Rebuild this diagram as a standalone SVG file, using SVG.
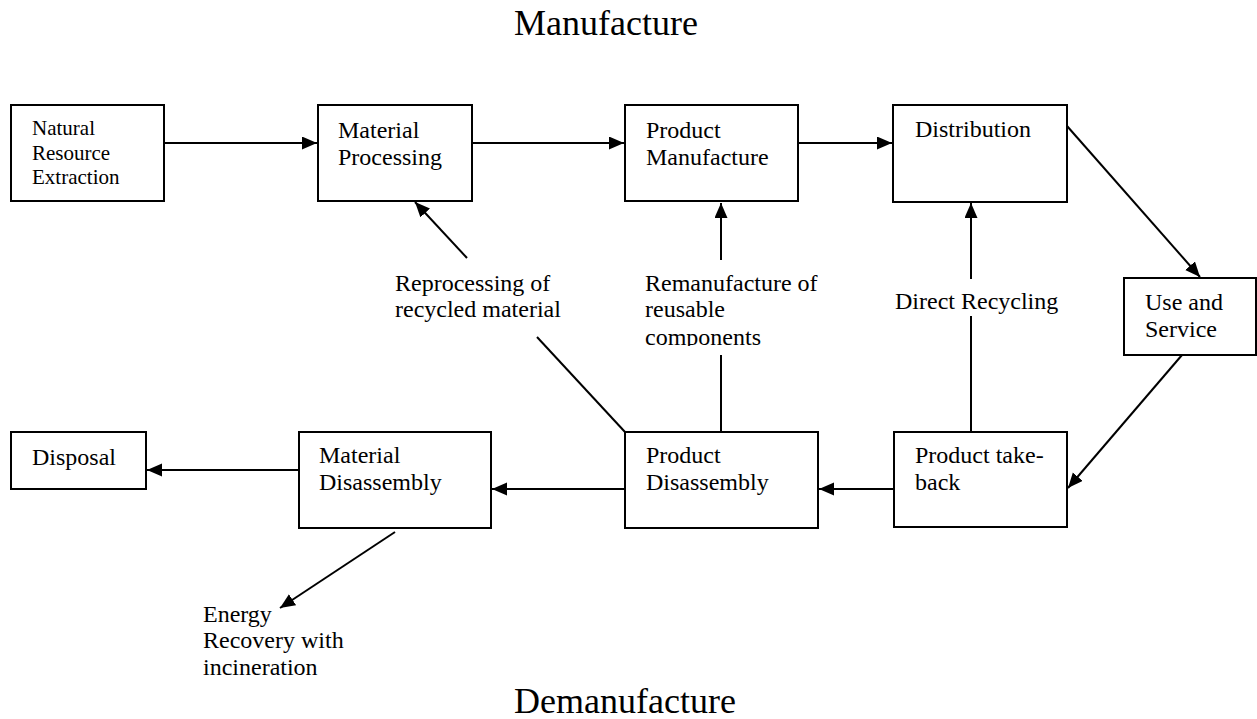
<svg xmlns="http://www.w3.org/2000/svg" width="1257" height="719" viewBox="0 0 1257 719">
<style>
.box{fill:#fff;stroke:#000;stroke-width:2}
.t{font-family:"Liberation Serif","Times New Roman",serif;font-size:24px;fill:#000}
.ts{font-size:21px}
.title{font-family:"Liberation Serif","Times New Roman",serif;font-size:36px;fill:#000;text-anchor:middle}
.c{stroke:#000;stroke-width:2;fill:none}
.a{marker-end:url(#ah)}
</style>
<defs>
<marker id="ah" markerUnits="userSpaceOnUse" markerWidth="16" markerHeight="14" refX="15" refY="6.5" orient="auto">
<path d="M0,0 L15,6.5 L0,13 z" fill="#000"/>
</marker>
<clipPath id="clipComp"><rect x="600" y="320" width="250" height="26"/></clipPath>
</defs>
<rect width="1257" height="719" fill="#fff"/>
<text class="title" x="606" y="35">Manufacture</text>
<text class="title" x="625" y="713">Demanufacture</text>

<g id="connectors">
<line class="c a" x1="164" y1="143" x2="317" y2="143"/>
<line class="c a" x1="472" y1="143" x2="624" y2="143"/>
<line class="c a" x1="798" y1="143" x2="892" y2="143"/>
<line class="c a" x1="1067" y1="126" x2="1200" y2="277"/>
<line class="c a" x1="1182" y1="355" x2="1068" y2="488"/>
<line class="c a" x1="894" y1="489" x2="819" y2="489"/>
<line class="c a" x1="625" y1="489" x2="492" y2="489"/>
<line class="c a" x1="299" y1="470" x2="147" y2="470"/>
<line class="c a" x1="395" y1="532" x2="280" y2="608"/>
<line class="c" x1="971" y1="432" x2="971" y2="316"/>
<line class="c a" x1="971" y1="279" x2="971" y2="203"/>
<line class="c" x1="721" y1="432" x2="721" y2="355"/>
<line class="c a" x1="721" y1="260" x2="721" y2="203"/>
<line class="c" x1="625" y1="432" x2="537" y2="337"/>
<line class="c a" x1="467" y1="258" x2="415" y2="202"/>
</g>

<g id="natural">
<rect class="box" x="11" y="105" width="153" height="96"/>
<text class="t ts" x="32" y="135">Natural</text>
<text class="t ts" x="32" y="160">Resource</text>
<text class="t ts" x="32" y="184">Extraction</text>
</g>
<g id="material-processing">
<rect class="box" x="318" y="105" width="154" height="96"/>
<text class="t" x="338" y="138">Material</text>
<text class="t" x="338" y="165">Processing</text>
</g>
<g id="product-manufacture">
<rect class="box" x="625" y="105" width="173" height="96"/>
<text class="t" x="646" y="138">Product</text>
<text class="t" x="646" y="165">Manufacture</text>
</g>
<g id="distribution">
<rect class="box" x="893" y="105" width="174" height="97"/>
<text class="t" x="915" y="137">Distribution</text>
</g>
<g id="use-service">
<rect class="box" x="1124" y="278" width="132" height="77"/>
<text class="t" x="1145" y="310">Use and</text>
<text class="t" x="1145" y="337">Service</text>
</g>
<g id="take-back">
<rect class="box" x="894" y="432" width="173" height="95"/>
<text class="t" x="915" y="463">Product take-</text>
<text class="t" x="915" y="490">back</text>
</g>
<g id="product-disassembly">
<rect class="box" x="625" y="432" width="193" height="96"/>
<text class="t" x="646" y="463">Product</text>
<text class="t" x="646" y="490">Disassembly</text>
</g>
<g id="material-disassembly">
<rect class="box" x="299" y="432" width="192" height="96"/>
<text class="t" x="319" y="463">Material</text>
<text class="t" x="319" y="490">Disassembly</text>
</g>
<g id="disposal">
<rect class="box" x="11" y="432" width="135" height="57"/>
<text class="t" x="32" y="465">Disposal</text>
</g>

<g id="labels">
<text class="t" x="395" y="291">Reprocessing of</text>
<text class="t" x="395" y="317">recycled material</text>
<text class="t" x="645" y="291">Remanufacture of</text>
<text class="t" x="645" y="317">reusable</text>
<text class="t" x="645" y="345" clip-path="url(#clipComp)">components</text>
<text class="t" x="895" y="309">Direct Recycling</text>
<text class="t" x="203" y="622">Energy</text>
<text class="t" x="203" y="648">Recovery with</text>
<text class="t" x="203" y="675">incineration</text>
</g>
</svg>
